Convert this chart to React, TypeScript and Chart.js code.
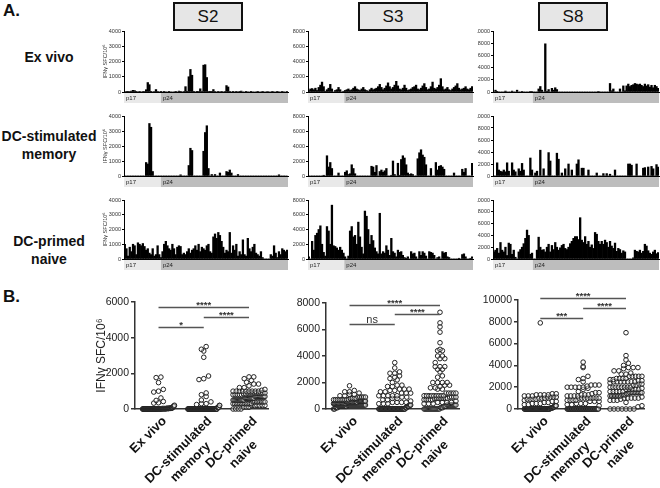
import React, { useEffect, useRef } from "react";
import { Chart, registerables } from "chart.js";

Chart.register(...registerables);

const FONT = "'Liberation Sans', Arial, Helvetica, sans-serif";
Chart.defaults.font.family = FONT;

// ---------- Data: IFN-gamma SFC/10^6 per Gag peptide (index order p17 -> p24) ----------
const S2_EX_VIVO = [
  0, 20, 40, 30, 60, 110, 90, 20, 0, 10,
  0, 30, 40, 150, 620, 480, 20, 0, 30, 160,
  40, 0, 10, 0, 20, 0, 0, 10, 0, 0,
  0, 20, 0, 60, 10, 0, 30, 350, 10, 1000,
  1480, 1100, 20, 0, 10, 40, 210, 30, 1760, 1790,
  950, 40, 10, 20, 160, 30, 0, 10, 0, 20,
  0, 30, 420, 330, 40, 0, 10, 0, 20, 0,
  10, 60, 0, 0, 20, 0, 0, 10, 0, 0,
  0, 20, 0, 0, 10, 0, 0, 30, 0, 0,
  10, 0, 0, 20, 0, 0, 10, 0, 0, 20,
];
const S2_DC_MEMORY = [
  0, 0, 0, 0, 0, 0, 0, 0, 0, 0,
  0, 0, 0, 900, 800, 3500, 3250, 300, 0, 0,
  0, 0, 0, 0, 0, 0, 0, 0, 0, 0,
  0, 0, 0, 0, 80, 0, 0, 0, 0, 700,
  1850, 1700, 0, 0, 0, 0, 0, 0, 1650, 2900,
  3350, 500, 0, 100, 0, 100, 0, 0, 200, 0,
  0, 0, 300, 250, 400, 200, 0, 0, 0, 100,
  0, 0, 0, 0, 0, 0, 0, 0, 0, 0,
  0, 0, 0, 0, 0, 0, 0, 0, 0, 0,
  0, 0, 0, 0, 80, 0, 0, 0, 0, 0,
];
const S2_DC_NAIVE = [
  1000, 700, 200, 800, 500, 1000, 900, 300, 1100, 1000,
  900, 1050, 850, 600, 700, 400, 300, 700, 200, 300,
  900, 300, 100, 500, 1000, 1200, 900, 700, 600, 1000,
  700, 300, 800, 900, 850, 300, 400, 300, 500, 700,
  400, 600, 700, 900, 600, 1000, 500, 800, 700, 600,
  900, 1000, 500, 400, 1500, 1700, 1400, 1800, 1600, 1200,
  800, 400, 600, 500, 1800, 400, 900, 600, 1000, 200,
  500, 300, 1300, 300, 200, 1400, 700, 500, 800, 1000,
  400, 300, 200, 500, 100, 0, 0, 0, 0, 300,
  200, 900, 400, 100, 500, 300, 700, 600, 500, 600,
];
const S3_EX_VIVO = [
  200, 400, 450, 300, 500, 200, 600, 900, 1300, 700,
  100, 300, 500, 1000, 400, 0, 200, 300, 600, 300,
  0, 100, 200, 300, 400, 200, 300, 500, 700, 400,
  300, 200, 400, 600, 300, 200, 100, 300, 500, 300,
  400, 500, 700, 1000, 600, 300, 500, 800, 1200, 700,
  400, 600, 900, 1400, 800, 400, 300, 500, 900, 500,
  200, 300, 400, 600, 700, 900, 400, 300, 500, 800,
  1100, 600, 300, 400, 700, 1300, 500, 400, 600, 900,
  1750, 700, 300, 400, 600, 300, 200, 400, 600, 800,
  1100, 500, 300, 400, 500, 700, 400, 300, 500, 700,
];
const S3_DC_MEMORY = [
  0, 0, 0, 0, 0, 0, 0, 0, 0, 100,
  0, 2700, 1200, 1800, 1000, 0, 0, 0, 400, 0,
  0, 0, 500, 700, 200, 300, 1500, 1000, 300, 0,
  0, 0, 0, 0, 0, 0, 0, 0, 1300, 1200,
  500, 1400, 0, 600, 800, 500, 700, 1000, 0, 0,
  100, 2000, 200, 0, 1700, 100, 2200, 2700, 2400, 1500,
  400, 200, 300, 200, 0, 0, 2300, 3100, 3500, 2800,
  2500, 1500, 0, 0, 1000, 0, 0, 1800, 800, 1300,
  1400, 1200, 900, 0, 0, 0, 0, 0, 400, 0,
  0, 0, 0, 900, 500, 1000, 0, 0, 0, 1700,
];
const S3_DC_NAIVE = [
  300, 0, 2400, 1200, 3200, 3500, 4000, 4500, 2000, 900,
  400, 4400, 3800, 2000, 7300, 1800, 1700, 1500, 1200, 1600,
  1200, 800, 300, 0, 400, 3800, 4400, 3000, 3200, 2000,
  5000, 3000, 1600, 700, 6500, 5800, 4000, 2000, 3200, 2500,
  1500, 1000, 700, 6200, 700, 1000, 800, 1800, 1200, 500,
  2800, 1000, 800, 300, 1200, 900, 1000, 500, 200, 100,
  300, 0, 1000, 700, 800, 300, 0, 1000, 500, 1000,
  800, 400, 0, 1000, 900, 800, 500, 0, 200, 300,
  0, 1000, 800, 900, 300, 200, 0, 0, 0, 0,
  0, 100, 0, 600, 700, 300, 0, 0, 100, 300,
];
const S8_EX_VIVO = [
  0, 300, 50, 0, 0, 0, 0, 150, 0, 0,
  0, 150, 0, 0, 300, 0, 0, 100, 0, 0,
  0, 0, 100, 80, 0, 0, 0, 500, 900, 300,
  0, 7900, 100, 400, 0, 600, 300, 700, 400, 0,
  0, 0, 0, 0, 0, 0, 0, 0, 0, 0,
  0, 0, 0, 0, 0, 0, 0, 0, 0, 0,
  0, 0, 0, 100, 0, 0, 0, 0, 0, 0,
  1400, 200, 500, 0, 0, 0, 500, 0, 1000, 200,
  1000, 1300, 900, 1100, 1200, 1400, 1300, 1200, 1300, 1100,
  900, 1300, 1000, 1200, 800, 1100, 700, 1100, 900, 600,
];
const S8_DC_MEMORY = [
  0, 0, 2200, 1000, 800, 700, 1000, 700, 2200, 800,
  0, 2200, 1000, 700, 0, 1200, 800, 2100, 1000, 0,
  0, 0, 3000, 1000, 0, 500, 800, 0, 4300, 0,
  1200, 0, 0, 3900, 2500, 0, 0, 0, 3800, 2800,
  0, 500, 0, 1200, 0, 2000, 0, 1000, 0, 0,
  2000, 2700, 0, 1300, 1300, 0, 0, 1000, 0, 0,
  0, 0, 500, 0, 0, 0, 400, 0, 400, 0,
  300, 0, 0, 1000, 0, 0, 0, 0, 0, 0,
  0, 2000, 2000, 1800, 0, 0, 2000, 0, 0, 0,
  1300, 1400, 0, 1500, 0, 1600, 1200, 0, 1900, 1500,
];
const S8_DC_NAIVE = [
  1200, 1500, 1800, 1000, 2800, 1500, 1200, 2000, 600, 2700,
  2500, 800, 1500, 300, 0, 1200, 1600, 2000, 2600, 3500,
  4900, 4000, 800, 1000, 0, 0, 1500, 3700, 2000, 1500,
  1600, 1200, 2000, 2500, 1200, 2300, 1600, 2800, 2000, 1500,
  1900, 2300, 2500, 1800, 1600, 2000, 2600, 3000, 3500, 3800,
  3800, 3300, 7000, 3200, 2800, 3800, 2500, 3000, 2000, 2400,
  1800, 4500, 4200, 3000, 2500, 3000, 2500, 3200, 2800, 2000,
  3000, 2200, 1800, 2700, 1300, 1800, 1600, 1000, 1400, 1200,
  0, 0, 0, 0, 200, 1500, 1300, 1200, 1500, 1000,
  1300, 2500, 2200, 1400, 1000, 800, 1200, 1500, 900, 1100,
];

const DONORS = ["S2", "S3", "S8"];
const CONDITIONS = [["Ex vivo"], ["DC-stimulated", "memory"], ["DC-primed", "naive"]];
const RESPONSES = [
  [S2_EX_VIVO, S2_DC_MEMORY, S2_DC_NAIVE],
  [S3_EX_VIVO, S3_DC_MEMORY, S3_DC_NAIVE],
  [S8_EX_VIVO, S8_DC_MEMORY, S8_DC_NAIVE],
];
const A_Y_MAX = [4000, 8000, 10000];
const A_Y_STEP = [1000, 2000, 2000];
const P17_END = [22.5, 22, 24];
const B_Y_MAX = [6000, 8000, 10000];
const B_Y_STEP = [2000, 2000, 2000];
const Y_TITLE = "IFNγ SFC/10⁶";
// [from category, to category, y value, label]
const BRACKETS: [number, number, number, string][][] = [
  [[1, 3, 5720, "****"], [2, 3, 5160, "****"], [1, 2, 4600, "*"]],
  [[1, 3, 7850, "****"], [2, 3, 7170, "****"], [1, 2, 6420, "ns"]],
  [[1, 3, 10180, "****"], [2, 3, 9270, "****"], [1, 2, 8350, "***"]],
];

// ---------- Layout ----------
const A_COL_AXIS = [124, 308, 493];
const A_COL_RIGHT = [288, 473, 659];
const A_COL_YW = [24, 18, 16];
const A_ROW_TOP = [31, 116, 200];
const A_ROW_ZERO = [92, 176, 259];
const A_PAD_TOP = 5;
const A_BAND_H = 12;

const B_AXIS = [135, 326, 518];
const B_RIGHT = [268.5, 459.5, 644.5];
const B_YW = [45, 35, 40];
const B_TOP = [302, 303, 300];
const B_ZERO = 409;
const B_CANVAS_TOP = 285;
const B_X_MIN = 0.48;
const B_X_MAX = 3.42;

const tickText = (v: any) => String(v);

function bandPlugin(end: number) {
  return {
    id: "proteinBand",
    afterDraw(chart: any) {
      const { ctx, chartArea } = chart;
      const xs = chart.scales.x;
      const y0 = chartArea.bottom + 1;
      const h = 10;
      const split = xs.getPixelForValue(end - 0.5);
      ctx.save();
      ctx.fillStyle = "#e9e9e9";
      ctx.fillRect(chartArea.left, y0, split - chartArea.left, h);
      ctx.fillStyle = "#bdbdbd";
      ctx.fillRect(split, y0, chartArea.right - split, h);
      ctx.fillStyle = "#222";
      ctx.font = `6px ${FONT}`;
      ctx.textBaseline = "middle";
      ctx.textAlign = "left";
      ctx.fillText("p17", chartArea.left + 2, y0 + h / 2 + 0.5);
      ctx.fillText("p24", split + 2, y0 + h / 2 + 0.5);
      ctx.restore();
    },
  };
}

function panelBPlugin(brackets: [number, number, number, string][]) {
  return {
    id: "panelBDecor",
    afterDraw(chart: any) {
      const { ctx, chartArea } = chart;
      const xs = chart.scales.x;
      const ys = chart.scales.y;
      ctx.save();
      brackets.forEach(([a, b, v, label]) => {
        const y = Math.round(ys.getPixelForValue(v)) + 0.5;
        const xa = xs.getPixelForValue(a);
        const xb = xs.getPixelForValue(b);
        ctx.strokeStyle = "#555";
        ctx.lineWidth = 1.5;
        ctx.beginPath();
        ctx.moveTo(xa, y);
        ctx.lineTo(xb, y);
        ctx.stroke();
        ctx.fillStyle = "#333";
        ctx.textAlign = "center";
        ctx.textBaseline = "alphabetic";
        if (label === "ns") {
          ctx.font = `11px ${FONT}`;
          ctx.fillText(label, (xa + xb) / 2, y - 2);
        } else {
          ctx.font = `bold 9.5px ${FONT}`;
          ctx.fillText(label, (xa + xb) / 2, y + 0.5);
        }
      });
      ctx.fillStyle = "#111";
      ctx.font = `bold 13px ${FONT}`;
      CONDITIONS.forEach((lines, i) => {
        const px = xs.getPixelForValue(i + 1);
        ctx.save();
        ctx.translate(px + 6, chartArea.bottom + 10);
        ctx.rotate(-Math.PI / 4);
        ctx.textBaseline = "middle";
        const w1 = ctx.measureText(lines[0]).width;
        ctx.textAlign = "right";
        ctx.fillText(lines[0], 0, 0);
        if (lines[1]) {
          ctx.textAlign = "center";
          ctx.fillText(lines[1], -w1 / 2, 17);
        }
        ctx.restore();
      });
      ctx.restore();
    },
  };
}

// lays out points side by side within small value bins (scatter dot plot)
function swarmPoints(values: number[], category: number, pxPerY: number, pxPerX: number) {
  const BIN = 4.2;
  const HALF = 16;
  const GAP = 4.8;
  const bins: Record<number, number[]> = {};
  values.forEach((v) => {
    const b = Math.floor((v * pxPerY) / BIN);
    (bins[b] = bins[b] || []).push(v);
  });
  const pts: { x: number; y: number }[] = [];
  Object.keys(bins).forEach((k) => {
    const arr = bins[Number(k)].slice().sort((p, q) => p - q);
    const n = arr.length;
    const step = n > 1 ? Math.min(GAP, (2 * HALF) / (n - 1)) : 0;
    arr.forEach((v, i) => {
      pts.push({ x: category + ((i - (n - 1) / 2) * step) / pxPerX, y: v });
    });
  });
  return pts;
}

function barConfig(c: number, r: number): any {
  const values = RESPONSES[c][r];
  return {
    type: "bar",
    data: {
      labels: values.map((_, i) => String(i + 1)),
      datasets: [
        {
          data: values,
          backgroundColor: "#000",
          borderWidth: 0,
          barPercentage: 1,
          categoryPercentage: 1,
        },
      ],
    },
    options: {
      animation: false,
      responsive: false,
      events: [],
      layout: { padding: { top: A_PAD_TOP, right: 1, left: 0, bottom: 0 } },
      plugins: { legend: { display: false }, tooltip: { enabled: false } },
      scales: {
        x: {
          grid: { display: false },
          ticks: { display: false },
          border: { display: true, color: "#000", width: 1 },
          afterFit: (s: any) => {
            s.height = A_BAND_H;
          },
        },
        y: {
          min: 0,
          max: A_Y_MAX[c],
          ticks: {
            stepSize: A_Y_STEP[c],
            font: { size: 5.5, family: FONT },
            color: "#333",
            padding: 1,
            callback: tickText,
          },
          grid: { drawOnChartArea: false, tickLength: 2, color: "#000" },
          border: { color: "#000", width: 1 },
          title:
            c === 0
              ? {
                  display: true,
                  text: Y_TITLE,
                  font: { size: 5.5, family: FONT },
                  color: "#333",
                  padding: { top: 2, bottom: 0 },
                }
              : { display: false },
          afterFit: (s: any) => {
            s.width = A_COL_YW[c];
          },
        },
      },
    },
    plugins: [bandPlugin(P17_END[c])],
  };
}

function dotConfig(c: number): any {
  const plotW = B_RIGHT[c] - B_AXIS[c];
  const pxPerX = plotW / (B_X_MAX - B_X_MIN);
  const pxPerY = (B_ZERO - B_TOP[c]) / B_Y_MAX[c];
  const points = RESPONSES[c].flatMap((vals, i) => swarmPoints(vals, i + 1, pxPerY, pxPerX));
  return {
    type: "scatter",
    data: {
      datasets: [
        {
          data: points,
          pointRadius: 2.3,
          pointBorderWidth: 1,
          pointBorderColor: "#222",
          pointBackgroundColor: "rgba(255,255,255,0.35)",
          clip: false,
        },
      ],
    },
    options: {
      animation: false,
      responsive: false,
      events: [],
      layout: { padding: { top: B_TOP[c] - B_CANVAS_TOP, right: 4, left: 0, bottom: 0 } },
      plugins: { legend: { display: false }, tooltip: { enabled: false } },
      scales: {
        x: {
          type: "linear",
          min: B_X_MIN,
          max: B_X_MAX,
          grid: { display: false },
          ticks: { display: false },
          border: { display: true, color: "#333", width: 1.5 },
          afterFit: (s: any) => {
            s.height = 488 - B_ZERO;
          },
        },
        y: {
          min: 0,
          max: B_Y_MAX[c],
          ticks: {
            stepSize: B_Y_STEP[c],
            font: { size: 10.5, family: FONT },
            color: "#222",
            padding: 2,
            callback: tickText,
          },
          grid: { drawOnChartArea: false, tickLength: 4, color: "#333", lineWidth: 1.5 },
          border: { color: "#333", width: 1.5 },
          title:
            c === 0
              ? {
                  display: true,
                  text: Y_TITLE,
                  font: { size: 12, family: FONT },
                  color: "#222",
                  padding: { top: 4, bottom: 0 },
                }
              : { display: false },
          afterFit: (s: any) => {
            s.width = B_YW[c];
          },
        },
      },
    },
    plugins: [panelBPlugin(BRACKETS[c])],
  };
}

function ChartCanvas(props: { left: number; top: number; width: number; height: number; make: () => any }) {
  const ref = useRef<HTMLCanvasElement>(null);
  useEffect(() => {
    const chart = new Chart(ref.current as HTMLCanvasElement, props.make());
    return () => chart.destroy();
  }, []);
  return (
    <canvas
      ref={ref}
      width={props.width}
      height={props.height}
      style={{ position: "absolute", left: props.left, top: props.top, width: props.width, height: props.height }}
    />
  );
}

const HEADER_LEFT = [173, 358, 538];
const ROW_LABEL_TOP = [48, 127, 232];

export default function App() {
  const aCharts: any[] = [];
  for (let c = 0; c < 3; c++) {
    for (let r = 0; r < 3; r++) {
      const left = A_COL_AXIS[c] - A_COL_YW[c];
      const top = A_ROW_TOP[r] - A_PAD_TOP;
      const width = A_COL_RIGHT[c] - left + 1;
      const height = A_ROW_ZERO[r] + A_BAND_H - top;
      aCharts.push(
        <ChartCanvas key={`a${c}${r}`} left={left} top={top} width={width} height={height} make={() => barConfig(c, r)} />
      );
    }
  }
  const bCharts = [0, 1, 2].map((c) => {
    const left = B_AXIS[c] - B_YW[c];
    const width = Math.ceil(B_RIGHT[c] - left + 4);
    return (
      <ChartCanvas key={`b${c}`} left={left} top={B_CANVAS_TOP} width={width} height={488 - B_CANVAS_TOP} make={() => dotConfig(c)} />
    );
  });

  return (
    <div
      style={{
        position: "absolute",
        left: 0,
        top: 0,
        width: 660,
        height: 488,
        overflow: "hidden",
        background: "#fff",
        fontFamily: FONT,
        color: "#111",
      }}
    >
      <div style={{ position: "absolute", left: 3, top: 1, fontSize: 17, fontWeight: "bold" }}>A.</div>
      <div style={{ position: "absolute", left: 3, top: 287, fontSize: 17, fontWeight: "bold" }}>B.</div>
      {DONORS.map((d, i) => (
        <div
          key={d}
          style={{
            position: "absolute",
            left: HEADER_LEFT[i],
            top: 2,
            width: 70,
            height: 29,
            boxSizing: "border-box",
            border: "2px solid #111",
            background: "#e6e6e6",
            fontSize: 17,
            lineHeight: "25px",
            textAlign: "center",
          }}
        >
          {d}
        </div>
      ))}
      {CONDITIONS.map((lines, i) => (
        <div
          key={i}
          style={{
            position: "absolute",
            left: 0,
            top: ROW_LABEL_TOP[i],
            width: 98,
            textAlign: "center",
            fontSize: 14,
            fontWeight: "bold",
            lineHeight: "18px",
          }}
        >
          {lines.map((l) => (
            <div key={l}>{l}</div>
          ))}
        </div>
      ))}
      {aCharts}
      {bCharts}
    </div>
  );
}
